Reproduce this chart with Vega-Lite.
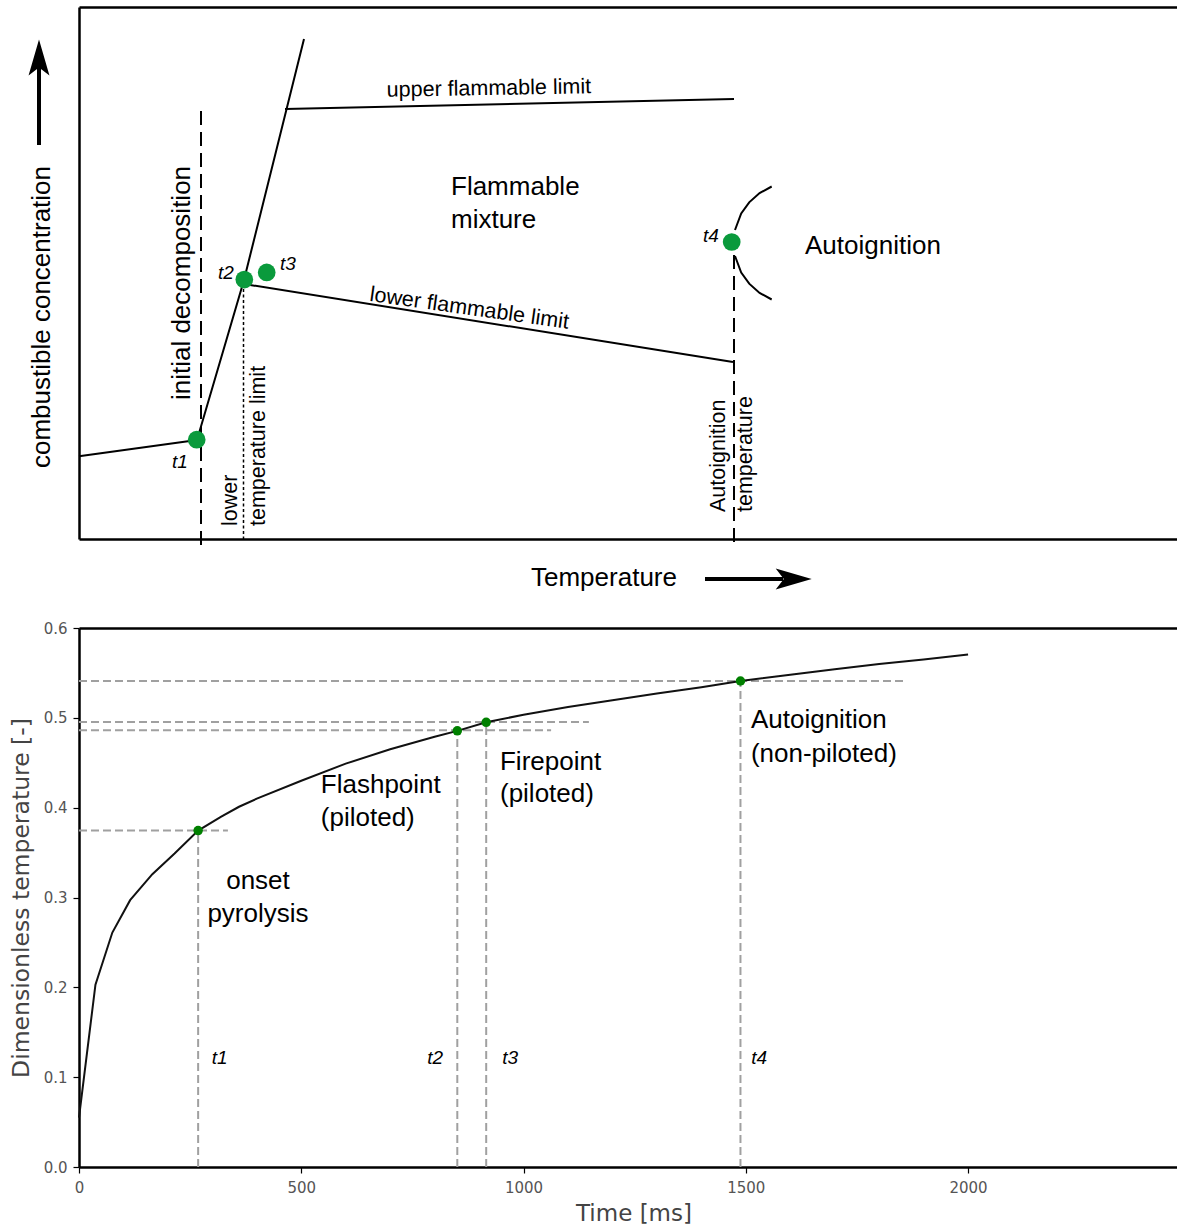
{
  "$schema": "https://vega.github.io/schema/vega-lite/v6.json",
  "background": "white",
  "padding": {"left": 9, "top": 7, "right": 0, "bottom": 0},
  "config": {"view": {"stroke": null}, "font": "Liberation Sans"},
  "spacing": 30,
  "vconcat": [
    {
      "width": 1098,
      "height": 532,
      "resolve": {"axis": {"x": "independent", "y": "independent"}},
      "layer": [
        {
          "data": {"values": [
            {"id": "base", "seq": 1, "T": 0, "C": 82.8},
            {"id": "base", "seq": 2, "T": 118, "C": 99},
            {"id": "steep", "seq": 1, "T": 118, "C": 99},
            {"id": "steep", "seq": 2, "T": 165, "C": 259},
            {"id": "steep", "seq": 3, "T": 225, "C": 500},
            {"id": "ufl", "seq": 1, "T": 206, "C": 430},
            {"id": "ufl", "seq": 2, "T": 655, "C": 440},
            {"id": "lfl", "seq": 1, "T": 165, "C": 255},
            {"id": "lfl", "seq": 2, "T": 654, "C": 177},
            {"id": "arcU", "seq": 1, "T": 692.7, "C": 352.5},
            {"id": "arcU", "seq": 2, "T": 680.6, "C": 345.9},
            {"id": "arcU", "seq": 3, "T": 670.2, "C": 336.7},
            {"id": "arcU", "seq": 4, "T": 662.2, "C": 325.5},
            {"id": "arcU", "seq": 5, "T": 656, "C": 309},
            {"id": "arcL", "seq": 1, "T": 656, "C": 283},
            {"id": "arcL", "seq": 2, "T": 662.2, "C": 266.5},
            {"id": "arcL", "seq": 3, "T": 670.2, "C": 255.3},
            {"id": "arcL", "seq": 4, "T": 680.6, "C": 246.1},
            {"id": "arcL", "seq": 5, "T": 692.7, "C": 239.5}
          ]},
          "mark": {"type": "line", "color": "black", "strokeWidth": 2},
          "encoding": {
            "x": {"field": "T", "type": "quantitative", "scale": {"domain": [0, 1098], "nice": false, "zero": false},
              "axis": {"orient": "bottom", "domain": true, "domainColor": "black", "domainWidth": 2.5, "ticks": false, "labels": false, "grid": false, "title": null}},
            "y": {"field": "C", "type": "quantitative", "scale": {"domain": [0, 532], "nice": false, "zero": false},
              "axis": {"orient": "left", "domain": true, "domainColor": "black", "domainWidth": 2.5, "ticks": false, "labels": false, "grid": false, "title": null}},
            "detail": {"field": "id"},
            "order": {"field": "seq"}
          }
        },
        {
          "data": {"values": [
            {"name": "initial decomposition", "T": 122, "C1": 428, "C2": -8},
            {"name": "autoignition temperature", "T": 655, "C1": 284, "C2": -8}
          ]},
          "mark": {"type": "rule", "color": "black", "strokeWidth": 2, "strokeDash": [14, 7]},
          "encoding": {
            "x": {"field": "T", "type": "quantitative", "scale": {"domain": [0, 1098], "nice": false, "zero": false}, "axis": null},
            "y": {"field": "C1", "type": "quantitative", "scale": {"domain": [0, 532], "nice": false, "zero": false}, "axis": null},
            "y2": {"field": "C2"}
          }
        },
        {
          "data": {"values": [
            {"name": "lower temperature limit", "T": 164.5, "C1": 250, "C2": 0}
          ]},
          "mark": {"type": "rule", "color": "black", "strokeWidth": 1.5, "strokeDash": [3, 2.5]},
          "encoding": {
            "x": {"field": "T", "type": "quantitative", "scale": {"domain": [0, 1098], "nice": false, "zero": false}, "axis": null},
            "y": {"field": "C1", "type": "quantitative", "scale": {"domain": [0, 532], "nice": false, "zero": false}, "axis": null},
            "y2": {"field": "C2"}
          }
        },
        {
          "data": {"values": [
            {"name": "concentration arrow", "T1": -40, "C1": 394, "T2": -40, "C2": 472},
            {"name": "temperature arrow", "T1": 626, "C1": -40, "T2": 704, "C2": -40}
          ]},
          "mark": {"type": "rule", "color": "black", "strokeWidth": 4},
          "encoding": {
            "x": {"field": "T1", "type": "quantitative", "scale": {"domain": [0, 1098], "nice": false, "zero": false}, "axis": null},
            "y": {"field": "C1", "type": "quantitative", "scale": {"domain": [0, 532], "nice": false, "zero": false}, "axis": null},
            "x2": {"field": "T2"},
            "y2": {"field": "C2"}
          }
        },
        {
          "data": {"values": [{"name": "up", "T": -40, "C": 481.5}]},
          "mark": {"type": "point", "shape": "M0,-1L0.58,1L0,0.55L-0.58,1Z", "size": 1296, "filled": true, "color": "black", "opacity": 1},
          "encoding": {
            "x": {"field": "T", "type": "quantitative", "scale": {"domain": [0, 1098], "nice": false, "zero": false}, "axis": null},
            "y": {"field": "C", "type": "quantitative", "scale": {"domain": [0, 532], "nice": false, "zero": false}, "axis": null}
          }
        },
        {
          "data": {"values": [{"name": "right", "T": 714.7, "C": -40}]},
          "mark": {"type": "point", "shape": "M1,0L-1,-0.58L-0.55,0L-1,0.58Z", "size": 1296, "filled": true, "color": "black", "opacity": 1},
          "encoding": {
            "x": {"field": "T", "type": "quantitative", "scale": {"domain": [0, 1098], "nice": false, "zero": false}, "axis": null},
            "y": {"field": "C", "type": "quantitative", "scale": {"domain": [0, 532], "nice": false, "zero": false}, "axis": null}
          }
        },
        {
          "data": {"values": [
            {"label": "t1", "T": 117.7, "C": 99.3},
            {"label": "t2", "T": 165.3, "C": 259.4},
            {"label": "t3", "T": 187.7, "C": 266.6},
            {"label": "t4", "T": 652.7, "C": 297}
          ]},
          "mark": {"type": "point", "shape": "circle", "size": 314, "filled": true, "color": "#0a9a3c", "opacity": 1},
          "encoding": {
            "x": {"field": "T", "type": "quantitative", "scale": {"domain": [0, 1098], "nice": false, "zero": false},
              "axis": {"orient": "top", "domain": true, "domainColor": "black", "domainWidth": 2.5, "ticks": false, "labels": false, "grid": false, "title": null}},
            "y": {"field": "C", "type": "quantitative", "scale": {"domain": [0, 532], "nice": false, "zero": false}, "axis": null}
          }
        },
        {
          "data": {"values": [
            {"label": "t1", "T": 101, "C": 77},
            {"label": "t2", "T": 147, "C": 266},
            {"label": "t3", "T": 209, "C": 275},
            {"label": "t4", "T": 632, "C": 303}
          ]},
          "mark": {"type": "text", "font": "Liberation Sans", "fontStyle": "italic", "fontSize": 19, "align": "center", "baseline": "middle", "color": "black"},
          "encoding": {
            "x": {"field": "T", "type": "quantitative", "scale": {"domain": [0, 1098], "nice": false, "zero": false}, "axis": null},
            "y": {"field": "C", "type": "quantitative", "scale": {"domain": [0, 532], "nice": false, "zero": false}, "axis": null},
            "text": {"field": "label"}
          }
        },
        {
          "data": {"values": [
            {"label": "Flammable", "T": 372, "C": 344},
            {"label": "mixture", "T": 372, "C": 311},
            {"label": "Autoignition", "T": 726, "C": 285.5},
            {"label": "Temperature", "T": 452, "C": -47}
          ]},
          "mark": {"type": "text", "font": "Liberation Sans", "fontSize": 26, "align": "left", "baseline": "alphabetic", "color": "black"},
          "encoding": {
            "x": {"field": "T", "type": "quantitative", "scale": {"domain": [0, 1098], "nice": false, "zero": false}, "axis": null},
            "y": {"field": "C", "type": "quantitative", "scale": {"domain": [0, 532], "nice": false, "zero": false}, "axis": null},
            "text": {"field": "label"}
          }
        },
        {
          "data": {"values": [
            {"label": "initial decomposition", "T": 103.2, "C": 256},
            {"label": "combustible concentration", "T": -36.8, "C": 222}
          ]},
          "mark": {"type": "text", "font": "Liberation Sans", "fontSize": 26, "align": "center", "baseline": "middle", "angle": 270, "color": "black"},
          "encoding": {
            "x": {"field": "T", "type": "quantitative", "scale": {"domain": [0, 1098], "nice": false, "zero": false}, "axis": null},
            "y": {"field": "C", "type": "quantitative", "scale": {"domain": [0, 532], "nice": false, "zero": false}, "axis": null},
            "text": {"field": "label"}
          }
        },
        {
          "data": {"values": [
            {"label": "lower", "T": 151.9, "C": 13},
            {"label": "temperature limit", "T": 179.5, "C": 13},
            {"label": "Autoignition", "T": 639.6, "C": 27},
            {"label": "temperature", "T": 667.2, "C": 27}
          ]},
          "mark": {"type": "text", "font": "Liberation Sans", "fontSize": 21.5, "align": "left", "baseline": "middle", "angle": 270, "color": "black"},
          "encoding": {
            "x": {"field": "T", "type": "quantitative", "scale": {"domain": [0, 1098], "nice": false, "zero": false}, "axis": null},
            "y": {"field": "C", "type": "quantitative", "scale": {"domain": [0, 532], "nice": false, "zero": false}, "axis": null},
            "text": {"field": "label"}
          }
        },
        {
          "data": {"values": [{"label": "upper flammable limit", "T": 410, "C": 444}]},
          "mark": {"type": "text", "font": "Liberation Sans", "fontSize": 21.5, "align": "center", "baseline": "alphabetic", "angle": -1, "color": "black"},
          "encoding": {
            "x": {"field": "T", "type": "quantitative", "scale": {"domain": [0, 1098], "nice": false, "zero": false}, "axis": null},
            "y": {"field": "C", "type": "quantitative", "scale": {"domain": [0, 532], "nice": false, "zero": false}, "axis": null},
            "text": {"field": "label"}
          }
        },
        {
          "data": {"values": [{"label": "lower flammable limit", "T": 389.5, "C": 224.2}]},
          "mark": {"type": "text", "font": "Liberation Sans", "fontSize": 21.5, "align": "center", "baseline": "alphabetic", "angle": 8, "color": "black"},
          "encoding": {
            "x": {"field": "T", "type": "quantitative", "scale": {"domain": [0, 1098], "nice": false, "zero": false}, "axis": null},
            "y": {"field": "C", "type": "quantitative", "scale": {"domain": [0, 532], "nice": false, "zero": false}, "axis": null},
            "text": {"field": "label"}
          }
        }
      ]
    },
    {
      "width": 1098,
      "height": 539,
      "resolve": {"axis": {"x": "independent", "y": "independent"}},
      "layer": [
        {
          "data": {"values": [
            {"event": "t1", "v": 0.3745, "t0": 0, "tEnd": 335},
            {"event": "t2", "v": 0.4862, "t0": 0, "tEnd": 1062},
            {"event": "t3", "v": 0.4953, "t0": 0, "tEnd": 1147},
            {"event": "t4", "v": 0.541, "t0": 0, "tEnd": 1858}
          ]},
          "mark": {"type": "rule", "color": "#a0a0a0", "strokeWidth": 2, "strokeDash": [8, 4]},
          "encoding": {
            "x": {"field": "t0", "type": "quantitative", "scale": {"domain": [0, 2470], "nice": false, "zero": false}, "axis": null},
            "x2": {"field": "tEnd"},
            "y": {"field": "v", "type": "quantitative", "scale": {"domain": [0, 0.6], "nice": false, "zero": false}, "axis": null}
          }
        },
        {
          "data": {"values": [
            {"event": "t1", "t": 268, "v0": 0, "v": 0.3745},
            {"event": "t2", "t": 851, "v0": 0, "v": 0.4855},
            {"event": "t3", "t": 916, "v0": 0, "v": 0.495},
            {"event": "t4", "t": 1488, "v0": 0, "v": 0.541}
          ]},
          "mark": {"type": "rule", "color": "#a0a0a0", "strokeWidth": 2, "strokeDash": [8, 4]},
          "encoding": {
            "x": {"field": "t", "type": "quantitative", "scale": {"domain": [0, 2470], "nice": false, "zero": false}, "axis": null},
            "y": {"field": "v0", "type": "quantitative", "scale": {"domain": [0, 0.6], "nice": false, "zero": false}, "axis": null},
            "y2": {"field": "v"}
          }
        },
        {
          "data": {"values": [
            {"t": 0, "v": 0.055}, {"t": 37, "v": 0.203}, {"t": 75, "v": 0.261}, {"t": 115, "v": 0.297},
            {"t": 165, "v": 0.326}, {"t": 215, "v": 0.349}, {"t": 268, "v": 0.3745}, {"t": 320, "v": 0.39},
            {"t": 360, "v": 0.401}, {"t": 400, "v": 0.41}, {"t": 500, "v": 0.43}, {"t": 600, "v": 0.449},
            {"t": 700, "v": 0.465}, {"t": 800, "v": 0.479}, {"t": 851, "v": 0.4855}, {"t": 916, "v": 0.495},
            {"t": 1000, "v": 0.5035}, {"t": 1100, "v": 0.512}, {"t": 1200, "v": 0.5195}, {"t": 1300, "v": 0.527},
            {"t": 1400, "v": 0.534}, {"t": 1488, "v": 0.541}, {"t": 1600, "v": 0.548}, {"t": 1700, "v": 0.554},
            {"t": 1800, "v": 0.56}, {"t": 1900, "v": 0.565}, {"t": 2000, "v": 0.5705}
          ]},
          "mark": {"type": "line", "color": "#111111", "strokeWidth": 2},
          "encoding": {
            "x": {"field": "t", "type": "quantitative", "scale": {"domain": [0, 2470], "nice": false, "zero": false},
              "axis": {"orient": "bottom", "values": [0, 500, 1000, 1500, 2000], "format": "d", "domain": true, "domainColor": "black", "domainWidth": 2.5,
                "ticks": true, "tickColor": "black", "tickWidth": 1.2, "tickSize": 6, "labelFont": "DejaVu Sans", "labelFontSize": 15, "labelColor": "#555555",
                "labelPadding": 7, "labelFlush": false, "grid": false, "title": "Time [ms]", "titleFont": "DejaVu Sans", "titleFontSize": 23,
                "titleFontWeight": "normal", "titleColor": "#444444", "titlePadding": 7, "titleX": 554.5}},
            "y": {"field": "v", "type": "quantitative", "scale": {"domain": [0, 0.6], "nice": false, "zero": false},
              "axis": {"orient": "left", "values": [0, 0.1, 0.2, 0.3, 0.4, 0.5, 0.6], "format": ".1f", "domain": true, "domainColor": "black", "domainWidth": 2.5,
                "ticks": true, "tickColor": "black", "tickWidth": 1.2, "tickSize": 6, "labelFont": "DejaVu Sans", "labelFontSize": 15, "labelColor": "#555555",
                "labelPadding": 6, "labelFlush": false, "grid": false, "title": "Dimensionless temperature [-]", "titleFont": "DejaVu Sans", "titleFontSize": 23.5,
                "titleFontWeight": "normal", "titleColor": "#444444", "titlePadding": 10}}
          }
        },
        {
          "data": {"values": [
            {"event": "t1", "t": 268, "v": 0.3745},
            {"event": "t2", "t": 851, "v": 0.4855},
            {"event": "t3", "t": 916, "v": 0.495},
            {"event": "t4", "t": 1488, "v": 0.541}
          ]},
          "mark": {"type": "point", "shape": "circle", "size": 90, "filled": true, "color": "#008000", "opacity": 1},
          "encoding": {
            "x": {"field": "t", "type": "quantitative", "scale": {"domain": [0, 2470], "nice": false, "zero": false},
              "axis": {"orient": "top", "domain": true, "domainColor": "black", "domainWidth": 2.5, "ticks": false, "labels": false, "grid": false, "title": null}},
            "y": {"field": "v", "type": "quantitative", "scale": {"domain": [0, 0.6], "nice": false, "zero": false}, "axis": null}
          }
        },
        {
          "data": {"values": [
            {"label": "onset", "t": 402.6, "v": 0.3097},
            {"label": "pyrolysis", "t": 402.6, "v": 0.2727}
          ]},
          "mark": {"type": "text", "font": "Liberation Sans", "fontSize": 26, "align": "center", "baseline": "alphabetic", "color": "black"},
          "encoding": {
            "x": {"field": "t", "type": "quantitative", "scale": {"domain": [0, 2470], "nice": false, "zero": false}, "axis": null},
            "y": {"field": "v", "type": "quantitative", "scale": {"domain": [0, 0.6], "nice": false, "zero": false}, "axis": null},
            "text": {"field": "label"}
          }
        },
        {
          "data": {"values": [
            {"label": "Flashpoint", "t": 544, "v": 0.4167},
            {"label": "(piloted)", "t": 544, "v": 0.3796},
            {"label": "Firepoint", "t": 947, "v": 0.442},
            {"label": "(piloted)", "t": 947, "v": 0.4063},
            {"label": "Autoignition", "t": 1511.5, "v": 0.4883},
            {"label": "(non-piloted)", "t": 1511.5, "v": 0.4508}
          ]},
          "mark": {"type": "text", "font": "Liberation Sans", "fontSize": 26, "align": "left", "baseline": "alphabetic", "color": "black"},
          "encoding": {
            "x": {"field": "t", "type": "quantitative", "scale": {"domain": [0, 2470], "nice": false, "zero": false}, "axis": null},
            "y": {"field": "v", "type": "quantitative", "scale": {"domain": [0, 0.6], "nice": false, "zero": false}, "axis": null},
            "text": {"field": "label"}
          }
        },
        {
          "data": {"values": [
            {"label": "t1", "t": 298.5, "v": 0.1147},
            {"label": "t2", "t": 783.6, "v": 0.1147},
            {"label": "t3", "t": 952.3, "v": 0.1147},
            {"label": "t4", "t": 1512, "v": 0.1147}
          ]},
          "mark": {"type": "text", "font": "Liberation Sans", "fontStyle": "italic", "fontSize": 19, "align": "left", "baseline": "alphabetic", "color": "black"},
          "encoding": {
            "x": {"field": "t", "type": "quantitative", "scale": {"domain": [0, 2470], "nice": false, "zero": false}, "axis": null},
            "y": {"field": "v", "type": "quantitative", "scale": {"domain": [0, 0.6], "nice": false, "zero": false}, "axis": null},
            "text": {"field": "label"}
          }
        }
      ]
    }
  ]
}
